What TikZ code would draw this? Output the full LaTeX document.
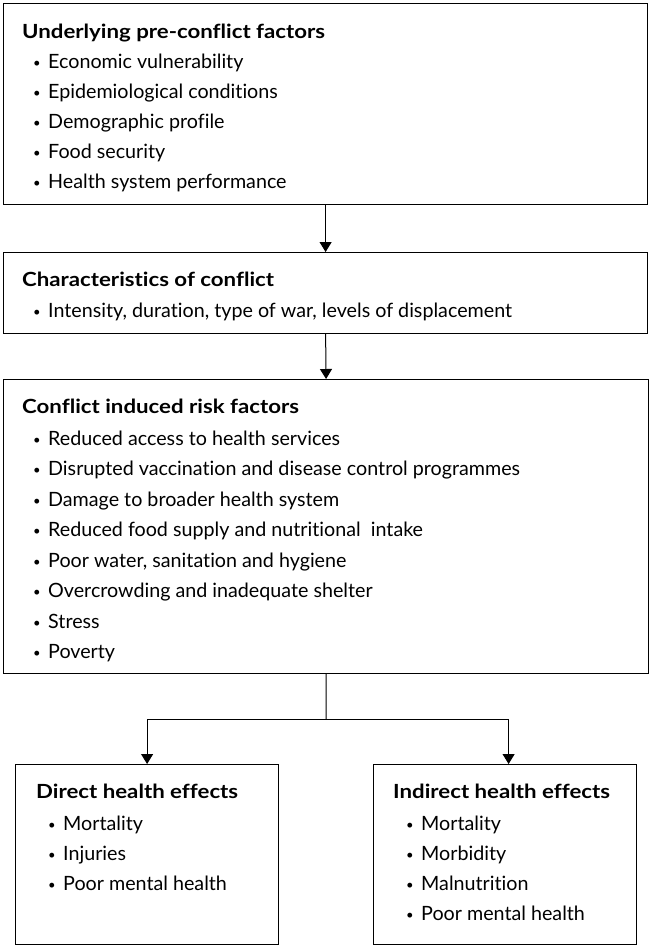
\documentclass[tikz,border=0pt]{standalone}
\usepackage{fontspec}
\setmainfont{Lato}[Ligatures=NoCommon]
\newfontfamily\headfont{Lato}[Ligatures=NoCommon, FakeStretch=1.14]
\usetikzlibrary{arrows.meta,positioning}

\newcommand{\bul}{\makebox[15pt][l]{\fontsize{13}{13}\selectfont\raisebox{1pt}{•}}}

\begin{document}
\begin{tikzpicture}[x=1pt,y=-1pt,
    box/.style={draw, line width=1.2pt, inner sep=0pt, anchor=north west},
    txt/.style={anchor=base west, inner sep=0pt, font=\fontsize{19.7}{22}\selectfont},
    head/.style={anchor=base west, inner sep=0pt, font=\headfont\fontsize{19.5}{22}\selectfont\bfseries},
    link/.style={line width=1pt, -{Triangle[width=12pt,length=10pt]}}]

    \useasboundingbox (0,0) rectangle (649,946);

    % boxes
    \node[box, minimum width=644pt, minimum height=201pt] (pre) at (3,3) {};
    \node[box, minimum width=644pt, minimum height=81pt] (char) at (3,252) {};
    \node[box, minimum width=645pt, minimum height=294pt] (risk) at (3,379) {};
    \node[box, minimum width=263pt, minimum height=180pt] (direct) at (15,764) {};
    \node[box, minimum width=263pt, minimum height=180pt] (indirect) at (373,764) {};

    % underlying factors
    \node[head] (preT) at (22,38) {Underlying pre-conflict factors};
    \node[txt] (pre1) at (33,68) {\bul Economic vulnerability};
    \node[txt] (pre2) at (33,98) {\bul Epidemiological conditions};
    \node[txt] (pre3) at (33,128) {\bul Demographic profile};
    \node[txt] (pre4) at (33,158) {\bul Food security};
    \node[txt] (pre5) at (33,188) {\bul Health system performance};

    % conflict
    \node[head] (charT) at (22,286) {Characteristics of conflict};
    \node[txt] (char1) at (33,317) {\bul Intensity, duration, type of war, levels of displacement};

    % risk factors
    \node[head] (riskT) at (22,413) {Conflict induced risk factors};
    \node[txt] (risk1) at (33,445) {\bul Reduced access to health services};
    \node[txt] (risk2) at (33,475.5) {\bul Disrupted vaccination and disease control programmes};
    \node[txt] (risk3) at (33,506) {\bul Damage to broader health system};
    \node[txt] (risk4) at (33,536.5) {\bul Reduced food supply and nutritional\ \ intake};
    \node[txt] (risk5) at (33,567) {\bul Poor water, sanitation and hygiene};
    \node[txt] (risk6) at (33,597.5) {\bul Overcrowding and inadequate shelter};
    \node[txt] (risk7) at (33,628) {\bul Stress};
    \node[txt] (risk8) at (33,658.5) {\bul Poverty};

    % effects
    \node[head] (directT) at (36,798) {Direct health effects};
    \node[txt] (direct1) at (48,830) {\bul Mortality};
    \node[txt] (direct2) at (48,860) {\bul Injuries};
    \node[txt] (direct3) at (48,890) {\bul Poor mental health};

    \node[head] (indirectT) at (393,798) {Indirect health effects};
    \node[txt] (indirect1) at (406,830) {\bul Mortality};
    \node[txt] (indirect2) at (406,860) {\bul Morbidity};
    \node[txt] (indirect3) at (406,890) {\bul Malnutrition};
    \node[txt] (indirect4) at (406,920) {\bul Poor mental health};

    % connectors
    \coordinate (split) at (326,719);
    \draw[link] (pre.south) -- (char.north);
    \draw[link] (char.south) -- (risk.north);
    \draw[line width=1pt] (risk.south) -- (split);
    \draw[link] (split) -| (direct.north);
    \draw[link] (split) -| ([xshift=3.5pt]indirect.north);

\end{tikzpicture}
\end{document}
